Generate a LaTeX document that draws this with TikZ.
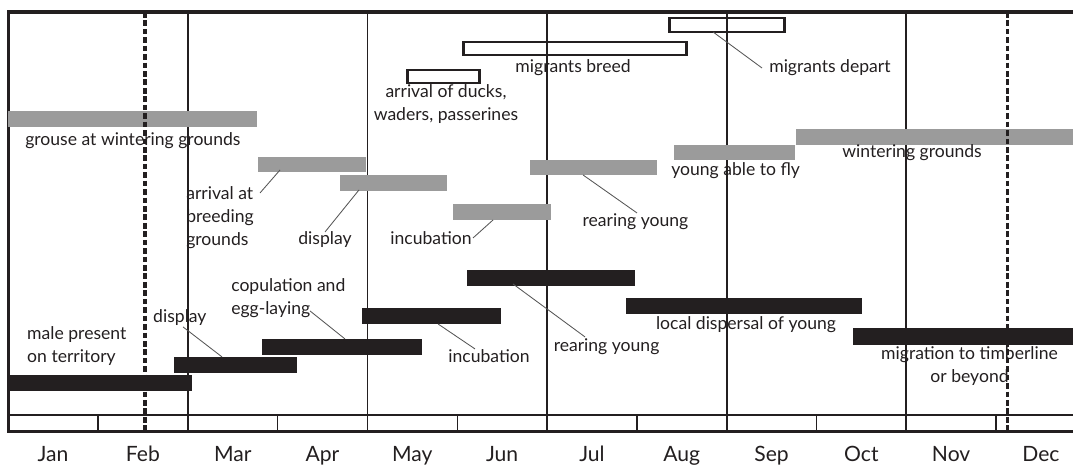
\documentclass[tikz,border=0pt]{standalone}
\usepackage{fontspec}
\setmainfont{Lato}
\definecolor{barblack}{RGB}{35,31,32}
\definecolor{bargray}{RGB}{155,155,155}
\definecolor{inkgray}{RGB}{85,85,85}
\begin{document}
\begin{tikzpicture}[x=2.245cm, y=-0.025cm,
	label/.style={font=\fontsize{12.5}{16.5}\selectfont, text=barblack, inner sep=0pt},
	month/.style={font=\fontsize{15}{18}\selectfont, text=barblack, inner sep=0pt, anchor=base},
	graybar/.style={fill=bargray},
	blackbar/.style={fill=barblack},
	openbar/.style={draw=barblack, line width=2pt},
	pointer/.style={draw=inkgray, line width=0.6pt},
	frameline/.style={draw=barblack, line width=2.2pt},
	monthline/.style={draw=barblack, line width=1.3pt},
	tickline/.style={draw=barblack, line width=1pt},
	seasonline/.style={draw=barblack, line width=2.2pt, dash pattern=on 4pt off 2pt}]
	\useasboundingbox (-0.0913,0) rectangle (11.857,466);
	\clip (-0.0913,0) rectangle (11.857,466);

	% months
	\foreach \i in {2,4,...,10} \draw[monthline] (\i,12) -- (\i,432);
	\foreach \i in {1,...,11} \draw[tickline] (\i,415) -- (\i,432);
	\draw[tickline] (0,415) -- (11.9,415);
	\draw[frameline] (11.9,12) -- (0,12) -- (0,432) -- (11.9,432);
	\foreach \m [count=\i from 0] in {Jan,Feb,Mar,Apr,May,Jun,Jul,Aug,Sep,Oct,Nov,Dec}
		\node[month] (m\i) at (\i+0.5,462) {\m};

	% open bars
	\draw[openbar] (4.45,70) rectangle (5.25,83);
	\draw[openbar] (5.07,42) rectangle (7.55,55);
	\draw[openbar] (7.36,18) rectangle (8.64,32);

	% gray bars
	\fill[graybar] (0,111) rectangle (2.77,127);
	\fill[graybar] (2.78,157) rectangle (3.98,172);
	\fill[graybar] (3.70,175) rectangle (4.89,191);
	\fill[graybar] (4.95,204) rectangle (6.04,220);
	\fill[graybar] (5.81,160) rectangle (7.22,175);
	\fill[graybar] (7.41,145) rectangle (8.76,160);
	\fill[graybar] (8.77,129) rectangle (11.9,145);

	% black bars
	\fill[blackbar] (0,375) rectangle (2.05,391);
	\fill[blackbar] (1.85,357) rectangle (3.22,373);
	\fill[blackbar] (2.83,339) rectangle (4.61,355);
	\fill[blackbar] (3.94,308) rectangle (5.49,324);
	\fill[blackbar] (5.11,270) rectangle (6.98,286);
	\fill[blackbar] (6.88,298) rectangle (9.51,314);
	\fill[blackbar] (9.41,328) rectangle (11.9,345);

	\draw[seasonline] (1.523,12) -- (1.523,432);
	\draw[seasonline] (11.13,12) -- (11.13,432);

	% labels (multi-line ones sit on their last line)
	\node[label, anchor=base west] (grouse) at (0.187,146) {grouse at wintering grounds};
	\node[label, anchor=base west, align=left] (arrival) at (1.98,246) {arrival at\\breeding\\grounds};
	\node[label, anchor=base] (gdisplay) at (3.528,245) {display};
	\node[label, anchor=base] (gincub) at (4.708,245) {incubation};
	\node[label, anchor=base] (grear) at (6.985,227) {rearing young};
	\node[label, anchor=base, align=center] (ducks) at (4.875,121) {arrival of ducks,\\waders, passerines};
	\node[label, anchor=base] (breed) at (6.29,73) {migrants breed};
	\node[label, anchor=base west] (depart) at (8.472,73) {migrants depart};
	\node[label, anchor=base west] (fly) at (7.381,176) {young able to fly};
	\node[label, anchor=base] (winter) at (10.065,158) {wintering grounds};
	\node[label, anchor=base west, align=left] (male) at (0.209,363) {male present\\on territory};
	\node[label, anchor=base west] (bdisplay) at (1.612,323) {display};
	\node[label, anchor=base west, align=left] (copul) at (2.481,315) {copulation and\\egg-laying};
	\node[label, anchor=base] (bincub) at (5.354,363) {incubation};
	\node[label, anchor=base] (brear) at (6.663,352) {rearing young};
	\node[label, anchor=base] (dispersal) at (8.216,330) {local dispersal of young};
	\node[label, anchor=base, align=center] (migr) at (10.705,383) {migration to timberline\\or beyond};

	% pointers
	\coordinate (arrbar) at (3.027,170);	\coordinate (arrend) at (2.804,193);
	\coordinate (gdisbar) at (3.906,190);	\coordinate (gdisend) at (3.528,232);
	\coordinate (ginbar) at (5.399,220);	\coordinate (ginend) at (5.176,238);
	\coordinate (grebar) at (6.401,175);	\coordinate (greend) at (7.002,213);
	\coordinate (depbar) at (7.849,32);	\coordinate (depend) at (8.394,68);
	\coordinate (bdisbar) at (2.381,357);	\coordinate (bdisend) at (1.947,327);
	\coordinate (copbar) at (3.75,339);	\coordinate (copend) at (3.361,311);
	\coordinate (binbar) at (4.786,324);	\coordinate (binend) at (5.198,349);
	\coordinate (brebar) at (5.621,284);	\coordinate (breend) at (6.423,337);
	\draw[pointer] (arrbar) -- (arrend);
	\draw[pointer] (gdisbar) -- (gdisend);
	\draw[pointer] (ginbar) -- (ginend);
	\draw[pointer] (grebar) -- (greend);
	\draw[pointer] (depbar) -- (depend);
	\draw[pointer] (bdisbar) -- (bdisend);
	\draw[pointer] (copbar) -- (copend);
	\draw[pointer] (binbar) -- (binend);
	\draw[pointer] (brebar) -- (breend);
\end{tikzpicture}
\end{document}
